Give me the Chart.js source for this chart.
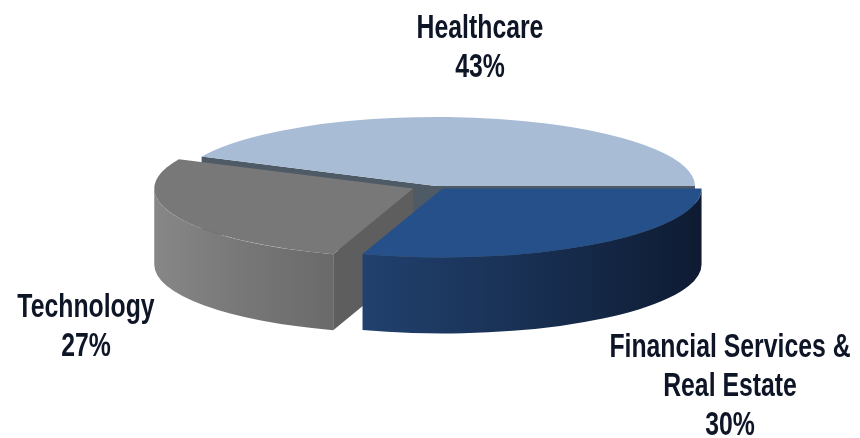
<!DOCTYPE html>
<html>
<head>
<meta charset="utf-8">
<script src="https://cdn.jsdelivr.net/npm/chart.js@4.4.1/dist/chart.umd.min.js"></script>
<style>
  html, body { margin: 0; background: #fff; }
  #wrap { width: 860px; height: 438px; position: relative; }
</style>
</head>
<body>
<div id="wrap"><canvas id="c"></canvas></div>
<script>
// data
const categories = ['Financial Services & Real Estate', 'Technology', 'Healthcare'];
const labelLines = [['Financial Services &', 'Real Estate'], ['Technology'], ['Healthcare']];
const shares = [30, 27, 43];

// look
const topColors  = ['#26508a', '#787878', '#a9bcd6'];
const faceColors = ['#1a3358', '#5e5e5e', '#4f5a67'];
const wallStops  = [['#21416e', '#182f52', '#0e1b32'], ['#878787', '#777777', '#6a6a6a'], ['#4f5a67', '#4f5a67', '#4f5a67']];
const explode    = [9, 20, 0];
const labelPos   = [[730, 357], [86, 317], [480, 38]];
const LINE_H = 39;
const ELL = { cx: 436, cy: 186, rx: 259, ry: 69, depth: 76 };

// fake 3d: squash chart.js arcs into an ellipse and extrude them
const pie3d = {
  id: 'pie3d',
  beforeDatasetsDraw(chart) {
    const ctx = chart.ctx;
    const arcs = chart.getDatasetMeta(0).data;
    const R = arcs[0].outerRadius;
    const sx = ELL.rx / R, sy = ELL.ry / R, dn = ELL.depth / sy;
    [2, 1, 0].forEach(i => {            // back to front
      const a = arcs[i];
      const s = a.startAngle, e = a.endAngle, mid = (s + e) / 2;
      const off = a.options.offset || 0;
      const ox = ELL.cx + Math.cos(mid) * off * sx;
      const oy = ELL.cy + Math.sin(mid) * off * sy;
      const shape = (fn, fill) => {
        ctx.save();
        ctx.translate(ox, oy); ctx.scale(sx, sy);
        ctx.beginPath(); fn(); ctx.closePath();
        ctx.restore();
        ctx.fillStyle = fill; ctx.fill();
      };
      // cut faces that look towards the viewer
      [[s, -Math.cos(s)], [e, Math.cos(e)]].forEach(([t, vis]) => {
        if (vis <= 0.001) return;
        const px = R * Math.cos(t), py = R * Math.sin(t);
        shape(() => { ctx.moveTo(0, 0); ctx.lineTo(px, py); ctx.lineTo(px, py + dn); ctx.lineTo(0, dn); }, faceColors[i]);
      });
      // outer wall, front half only
      for (const base of [0, 2 * Math.PI]) {
        const lo = Math.max(s, base), hi = Math.min(e, base + Math.PI);
        if (hi <= lo) continue;
        const g = ctx.createLinearGradient(ox + R * sx * Math.cos(hi), 0, ox + R * sx * Math.cos(lo), 0);
        wallStops[i].forEach((c, k) => g.addColorStop(k / (wallStops[i].length - 1), c));
        shape(() => { ctx.arc(0, 0, R, lo, hi); ctx.arc(0, dn, R, hi, lo, true); }, g);
      }
      // top
      shape(() => { ctx.moveTo(0, 0); ctx.arc(0, 0, R, s, e); }, a.options.backgroundColor);
    });
    return false;
  },
  afterDraw(chart) {
    const ctx = chart.ctx;
    ctx.save();
    ctx.fillStyle = '#0e1526';
    ctx.font = 'bold 31px "Liberation Sans", Arial, sans-serif';
    ctx.textAlign = 'center';
    ctx.textBaseline = 'alphabetic';
    categories.forEach((c, i) => {
      const lines = [...labelLines[i], shares[i] + '%'];
      const [x, y] = labelPos[i];
      lines.forEach((t, k) => {
        ctx.save();
        ctx.translate(x, y + k * LINE_H);
        ctx.scale(0.8, 1.06);
        ctx.fillText(t, 0, 0);
        ctx.restore();
      });
    });
    ctx.restore();
  }
};

new Chart(document.getElementById('c'), {
  type: 'pie',
  data: {
    labels: categories,
    datasets: [{ data: shares, backgroundColor: topColors, borderWidth: 0, offset: explode }]
  },
  options: {
    responsive: true,
    maintainAspectRatio: false,
    animation: false,
    rotation: 90,
    layout: { padding: 0 },
    plugins: { legend: { display: false }, tooltip: { enabled: false } }
  },
  plugins: [pie3d]
});
</script>
</body>
</html>
